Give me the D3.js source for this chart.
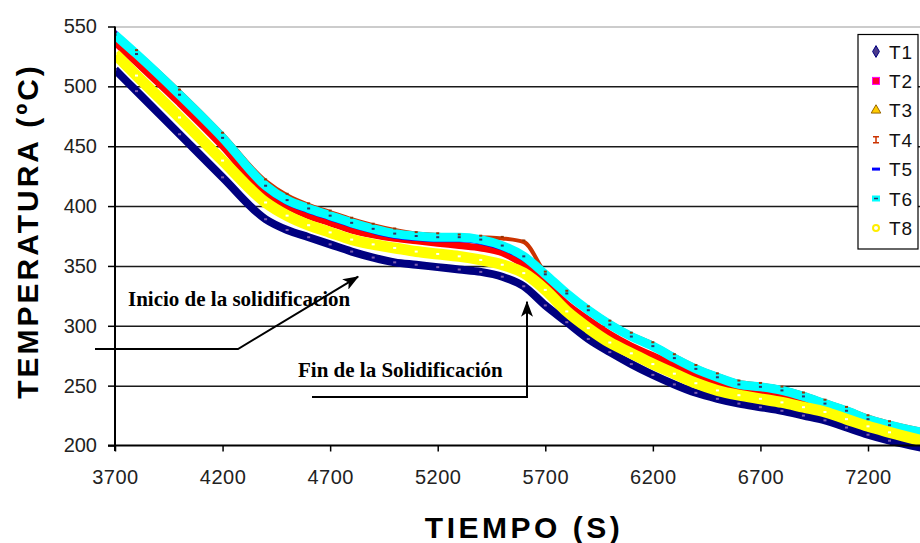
<!DOCTYPE html>
<html>
<head>
<meta charset="utf-8">
<script src="https://cdn.jsdelivr.net/npm/d3@7"></script>
<style>
body { margin: 0; background: #fff; }
svg { display: block; }
text { font-family: "Liberation Sans", Arial, sans-serif; }
text.serif { font-family: "Liberation Serif", "Times New Roman", serif; }
</style>
</head>
<body>
<div id="chart"></div>
<script>
var tiempo = [3700, 3800, 4000, 4200, 4400, 4500, 4600, 4700, 4800, 4900, 5000, 5100, 5200, 5300, 5400, 5500, 5600, 5700,
    5800, 5900, 6000, 6100, 6200, 6300, 6400, 6500, 6600, 6700, 6800, 6900, 7000, 7100, 7200, 7300, 7450]

var T1 = [514, 496, 460, 424, 389, 380, 374, 368, 362, 357, 353, 351, 349, 347, 345, 341, 333, 317,
    303, 289, 278, 268, 259, 251, 244, 239, 235, 232, 229, 225, 221, 215, 209, 204, 198]
var T2 = [537, 520, 486, 450, 410, 400, 392, 386, 380, 376, 373, 371, 369, 367, 365, 361, 351, 336,
    318, 305, 293, 283, 275, 267, 259, 253, 248, 245, 243, 238, 234, 228, 222, 216, 208]
var T3 = [543, 527, 494, 458, 418, 406, 399, 393, 387, 382, 378, 375, 374, 374, 372, 368, 359, 343,
    327, 313, 301, 291, 283, 273, 264, 257, 251, 249, 246, 241, 235, 229, 222, 217, 211]
var T4 = [544, 529, 496, 460, 421, 409, 401, 395, 389, 384, 380, 377, 376, 375, 374, 373, 370, 344,
    328, 315, 303, 293, 285, 275, 266, 259, 253, 251, 248, 243, 237, 231, 224, 219, 213]
var T5 = [546, 529, 493, 456, 414, 402, 395, 389, 383, 378, 374, 372, 371, 371, 369, 364, 355, 341,
    325, 311, 299, 289, 281, 271, 262, 255, 249, 247, 244, 239, 233, 227, 220, 215, 209]
var T6 = [543, 527, 493, 457, 417, 405, 398, 392, 386, 381, 377, 375, 374, 374, 372, 367, 358, 343,
    327, 313, 301, 291, 283, 273, 264, 257, 251, 249, 246, 241, 235, 229, 222, 217, 211]
var T8 = [527, 509, 474, 438, 403, 392, 384, 378, 372, 368, 365, 362, 360, 358, 355, 351, 344, 330,
    312, 298, 286, 277, 268, 260, 252, 246, 242, 239, 236, 232, 228, 222, 216, 211, 204]

var nombres = ["T1", "T2", "T3", "T4", "T5", "T6", "T8"]
var yTicks = [200, 250, 300, 350, 400, 450, 500, 550]
var xTicks = [3700, 4200, 4700, 5200, 5700, 6200, 6700, 7200]

// line colour, band width, marker colour
var estilos = {
    T1: ["#000080", 8, "#7a5cb0"],
    T2: ["#ff0000", 7, "#ff33aa"],
    T3: ["#cc9900", 4, "#996600"],
    T4: ["#cc3300", 4, "#993300"],
    T5: ["#0000ff", 3, "#0000cc"],
    T6: ["#00ffff", 9, "#333366"],
    T8: ["#ffff00", 11, "#ffffff"]
}

var series = [T1, T2, T3, T4, T5, T6, T8].map((vals, i) => ({
    name: nombres[i],
    values: vals.map((v, j) => ({ t: tiempo[j], v: v }))
}))

var width = 920, height = 543

var xScale = d3.scaleLinear().domain([3700, 7200]).range([115, 868])
var yScale = d3.scaleLinear().domain([200, 550]).range([445.5, 26.5])

var svg = d3.select("#chart").append("svg")
    .attr("width", width)
    .attr("height", height)

var defs = svg.append("defs")
defs.append("clipPath").attr("id", "plot")
    .append("rect").attr("x", 115).attr("y", 0).attr("width", width - 115).attr("height", 460)
defs.append("marker")
    .attr("id", "flecha")
    .attr("markerUnits", "userSpaceOnUse")
    .attr("viewBox", "0 0 16 12")
    .attr("refX", 15).attr("refY", 6)
    .attr("markerWidth", 16).attr("markerHeight", 12)
    .attr("orient", "auto")
    .append("path").attr("d", "M0,0 L16,6 L0,12 L4,6 Z").attr("fill", "#000")

/* gridlines */
svg.append("g")
    .attr("transform", "translate(115,0)")
    .call(d3.axisLeft(yScale).tickValues(yTicks.slice(1)).tickSize(-(width - 115)).tickFormat(""))
    .call(g => g.select(".domain").remove())
    .selectAll("line")
    .attr("stroke", d => d === 550 ? "#999" : "#1a1a1a")
    .attr("stroke-width", d => d === 550 ? 1.2 : 1.5)

/* series */
var line = d3.line()
    .x(d => xScale(d.t))
    .y(d => yScale(d.v))
    .curve(d3.curveMonotoneX)

var lines = svg.append("g").attr("clip-path", "url(#plot)")

lines.selectAll(".line")
    .data(series).enter()
    .append("path")
    .attr("class", "line")
    .attr("d", d => line(d.values))
    .attr("fill", "none")
    .attr("stroke", d => estilos[d.name][0])
    .attr("stroke-width", d => estilos[d.name][1])
    .attr("stroke-linejoin", "round")

lines.selectAll(".marks")
    .data(series.filter(s => ["T1", "T4", "T6", "T8"].indexOf(s.name) !== -1)).enter()
    .append("g")
    .attr("class", "marks")
    .selectAll("rect")
    .data(d => d.values.map(p => ({ t: p.t, v: p.v, name: d.name }))).enter()
    .append("rect")
    .attr("x", d => xScale(d.t) - 1.5)
    .attr("y", d => yScale(d.v) - (d.name === "T4" ? 2.5 : 1))
    .attr("width", 3)
    .attr("height", 2)
    .attr("fill", d => estilos[d.name][2])

/* axes */
var yAxis = svg.append("g")
    .attr("transform", "translate(115,0)")
    .call(d3.axisLeft(yScale).tickValues(yTicks).tickSize(7).tickSizeOuter(0).tickPadding(11))
yAxis.select(".domain").attr("stroke", "#000").attr("stroke-width", 2).attr("d", "M0,26.5V451")
yAxis.selectAll("line").attr("stroke", "#000").attr("stroke-width", 1.5)
yAxis.selectAll("text").attr("font-size", 20).attr("fill", "#222")

var xAxis = svg.append("g")
    .attr("transform", "translate(0,445.5)")
    .call(d3.axisBottom(xScale).tickValues(xTicks).tickSize(6).tickSizeOuter(0).tickPadding(18).tickFormat(d3.format("d")))
xAxis.select(".domain").attr("stroke", "#000").attr("stroke-width", 2).attr("d", "M108,0H" + width)
xAxis.selectAll("line").attr("stroke", "#000").attr("stroke-width", 1.5)
xAxis.selectAll("text").attr("font-size", 20).attr("fill", "#222")
    .attr("letter-spacing", 0.5)

/* titles */
svg.append("text")
    .attr("transform", "translate(38,231) rotate(-90)")
    .attr("text-anchor", "middle")
    .attr("font-size", 30)
    .attr("font-weight", "bold")
    .attr("letter-spacing", 3)
    .text("TEMPERATURA (ºC)")

svg.append("text")
    .attr("x", 524)
    .attr("y", 538)
    .attr("text-anchor", "middle")
    .attr("font-size", 30)
    .attr("font-weight", "bold")
    .attr("letter-spacing", 3.5)
    .text("TIEMPO (S)")

/* annotations */
var notas = svg.append("g")
notas.append("path")
    .attr("d", d3.line()([[95, 349], [238, 349], [xScale(4830), yScale(341)]]))
    .attr("fill", "none").attr("stroke", "#000").attr("stroke-width", 2)
    .attr("marker-end", "url(#flecha)")
notas.append("path")
    .attr("d", d3.line()([[312, 397], [xScale(5615), 397], [xScale(5615), yScale(320)]]))
    .attr("fill", "none").attr("stroke", "#000").attr("stroke-width", 2)
    .attr("marker-end", "url(#flecha)")

notas.append("text")
    .attr("class", "serif")
    .attr("x", 128).attr("y", 306)
    .attr("font-weight", "bold").attr("font-size", 21)
    .text("Inicio de la solidificacion")
notas.append("text")
    .attr("class", "serif")
    .attr("x", 298).attr("y", 377)
    .attr("font-weight", "bold").attr("font-size", 21)
    .text("Fin de la Solidificación")

/* legend */
var legend = svg.append("g").attr("transform", "translate(858,34.5)")
legend.append("rect")
    .attr("width", 60).attr("height", 214.5)
    .attr("fill", "#fff").attr("stroke", "#000").attr("stroke-width", 1.2)

var item = legend.selectAll(".item")
    .data(nombres).enter()
    .append("g")
    .attr("class", "item")
    .attr("transform", (d, i) => `translate(18, ${17 + i * 29.4})`)

item.append("text")
    .attr("x", 13).attr("y", 7)
    .attr("font-size", 19)
    .attr("letter-spacing", 1)
    .attr("fill", "#111")
    .text(d => d)

var simbolo = {
    T1: g => g.append("path").attr("d", d3.symbol(d3.symbolDiamond, 40)()).attr("fill", "#4b3a8c").attr("stroke", "#000080"),
    T2: g => g.append("rect").attr("x", -3.5).attr("y", -3.5).attr("width", 7).attr("height", 7).attr("fill", "#ff0033").attr("stroke", "#ff00ff"),
    T3: g => g.append("path").attr("d", d3.symbol(d3.symbolTriangle, 40)()).attr("fill", "#ffcc00").attr("stroke", "#996600"),
    T4: g => g.append("path").attr("d", "M-3,-3H3M0,-3V3M-3,3H3").attr("stroke", "#cc3300").attr("stroke-width", 1.5),
    T5: g => g.append("rect").attr("x", -4).attr("y", -1.5).attr("width", 8).attr("height", 3).attr("fill", "#0000ff"),
    T6: g => {
        g.append("rect").attr("x", -4).attr("y", -3).attr("width", 8).attr("height", 6).attr("fill", "#00ffff")
        g.append("rect").attr("x", -2).attr("y", -0.75).attr("width", 4).attr("height", 1.5).attr("fill", "#333366")
    },
    T8: g => g.append("circle").attr("r", 3).attr("fill", "#fff").attr("stroke", "#ffee00").attr("stroke-width", 2)
}
item.each(function (d) { simbolo[d](d3.select(this)) })
</script>
</body>
</html>
